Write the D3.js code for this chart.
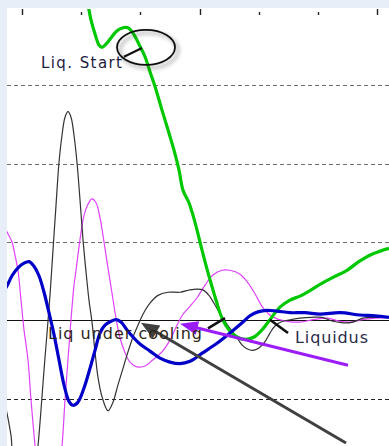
<!DOCTYPE html>
<html>
<head>
<meta charset="utf-8">
<script src="https://cdn.jsdelivr.net/npm/d3@7"></script>
<style>
  html, body { margin: 0; padding: 0; background: #e8eef8; }
  svg { display: block; }
</style>
</head>
<body>
<div id="chart"></div>
<script>
// Time (s) of each sample and the four traces (one unit per grid division)
const greenT = [11.15,11.66,12.34,13.01,13.52,14.2,15.04,16.06,17.07,17.91,18.76,19.77,20.79,21.63,22.65,23.66,24.67,25.69,26.53,27.21,28.22,29.24,30.08,30.93,31.77,32.79,33.8,34.99,36.34,37.86,39.21,40.56,41.91,43.6,45.29,46.98,48.67,50.36,52.56,54.93,57.12,59.32,62.02];
const greenV = [4.03,3.83,3.65,3.51,3.48,3.52,3.60,3.69,3.73,3.73,3.66,3.52,3.36,3.17,2.94,2.68,2.43,2.17,1.92,1.66,1.50,1.25,1.00,0.75,0.52,0.26,0.03,-0.12,-0.21,-0.24,-0.21,-0.12,0.01,0.17,0.26,0.31,0.38,0.46,0.55,0.64,0.76,0.85,0.92];

const blackT = [-3.21,-2.54,-1.86,-1.18,2.2,2.7,3.21,3.72,4.23,4.73,5.24,5.75,6.25,6.76,7.27,7.77,8.28,8.79,9.3,9.8,10.31,10.82,11.32,11.83,12.34,12.84,13.52,14.53,15.38,16.22,17.07,17.91,18.76,19.6,20.45,21.63,22.98,24.67,26.7,28.39,29.58,30.59,31.6,32.45,33.29,34.14,35.15,36.34,37.18,38.03,39.04,40.05,41.07,41.91,42.76,43.77,45.29,46.98,49.01,50.7,52.56,54.25,55.94,57.63,59.66,62.02];
const blackV = [-0.95,-1.18,-1.46,-1.78,-1.90,-1.60,-1.14,-0.63,-0.16,0.32,0.90,1.47,2.01,2.36,2.59,2.66,2.59,2.36,2.01,1.54,1.03,0.62,0.26,-0.02,-0.40,-0.72,-0.97,-1.15,-1.04,-0.82,-0.61,-0.40,-0.21,-0.06,0.08,0.22,0.32,0.36,0.36,0.39,0.40,0.39,0.32,0.22,0.11,0.01,-0.10,-0.22,-0.31,-0.36,-0.38,-0.35,-0.27,-0.16,-0.07,-0.02,0.01,0.03,0.04,0.04,-0.01,-0.03,-0.02,0.03,0.04,0.04];

const magentaT = [-3.21,-2.54,-1.69,-1.18,-0.68,-0.17,0.34,1.01,1.52,2.2,2.7,4.39,6.08,6.76,7.27,7.77,8.28,8.79,9.13,9.8,10.48,11.15,11.83,12.51,13.18,13.86,14.53,15.21,15.89,16.56,17.41,18.25,19.44,20.79,22.14,23.66,25.01,26.2,27.21,28.39,29.58,30.93,32.28,33.8,35.15,36.85,38.2,39.38,40.56,41.74,43.1,44.79,46.98,49.18,51.55,53.74,55.43,57.46,59.66,62.02];
const magentaV = [1.25,1.13,1.00,0.83,0.64,0.26,-0.12,-0.50,-1.01,-1.60,-2.03,-2.35,-2.03,-1.60,-1.01,-0.50,0.01,0.45,0.64,1.03,1.34,1.48,1.55,1.50,1.31,1.00,0.67,0.35,0.03,-0.22,-0.41,-0.53,-0.59,-0.58,-0.50,-0.40,-0.25,-0.06,0.08,0.18,0.29,0.45,0.58,0.64,0.64,0.59,0.48,0.34,0.18,0.08,0.02,-0.01,-0.02,0.01,0.03,-0.01,-0.02,0.01,0.03,0.04];

const blueT = [-3.21,-2.54,-1.69,-0.68,0.34,1.18,2.03,2.87,3.72,4.56,5.41,6.25,7.1,7.94,8.62,9.46,10.48,11.49,12.34,13.18,14.03,15.04,15.89,16.73,17.75,18.76,19.94,21.63,23.32,25.01,26.7,28.39,30.59,32.96,35.15,37.35,38.53,39.89,41.41,43.1,45.29,47.83,50.36,53.74,57.12,59.66,62.02];
const blueV = [0.36,0.44,0.57,0.67,0.73,0.75,0.69,0.57,0.36,0.10,-0.18,-0.50,-0.82,-1.03,-1.08,-1.04,-0.86,-0.61,-0.38,-0.16,-0.06,-0.01,0.01,-0.02,-0.12,-0.21,-0.30,-0.39,-0.48,-0.53,-0.55,-0.52,-0.41,-0.29,-0.16,-0.02,0.06,0.11,0.13,0.12,0.10,0.10,0.08,0.10,0.07,0.06,0.04];

// Axis ticks and grid levels
const majorTicks = [0, 30, 60];
const minorTicks = [10, 20, 40, 50];
const gridLevels = [1, 2, 3];
const lowerGrid = [-1];

// Annotation anchors in data units
const startMark = { t: 20.96, v: 3.48 };
const startTickLine = [[17.24, 3.36], [20.28, 3.47]];
const liquidusMarks = [
  [[31.43, -0.10], [34.31, 0.03]],
  [[41.91, 0.01], [44.96, -0.16]]
];
const purpleArrow = { from: [55.1, -0.57], to: [26.7, -0.04] };
const grayArrow = { from: [54.76, -1.56], to: [20.11, -0.03] };
const labels = [
  { text: "Liq. Start", t: 3.21, v: 3.22, size: 15, len: 81, color: "#1e2040" },
  { text: "Liq under cooling", t: 4.39, v: -0.24, size: 16, len: 154, color: "#2e2618" },
  { text: "Liquidus", t: 46.14, v: -0.29, size: 16, len: 73, color: "#2a2c4a" }
];

const W = 389, H = 446;
const plot = { left: 7, top: 9, right: 389, bottom: 446 };

const x = d3.scaleLinear().domain([0, 60]).range([22, 377]);
const y = d3.scaleLinear().domain([-1, 3]).range([399, 85]);

const svg = d3.select("#chart").append("svg")
  .attr("width", W).attr("height", H);

const defs = svg.append("defs");
defs.append("clipPath").attr("id", "plotClip")
  .append("rect")
  .attr("x", plot.left).attr("y", plot.top)
  .attr("width", plot.right - plot.left).attr("height", plot.bottom - plot.top);
const shadow = defs.append("filter").attr("id", "softShadow")
  .attr("x", "-30%").attr("y", "-30%").attr("width", "170%").attr("height", "170%");
shadow.append("feDropShadow")
  .attr("dx", 3).attr("dy", 3).attr("stdDeviation", 2.2)
  .attr("flood-color", "#000").attr("flood-opacity", 0.45);

// Plot background
svg.append("rect")
  .attr("x", plot.left).attr("y", plot.top - 1)
  .attr("width", plot.right - plot.left).attr("height", plot.bottom - plot.top + 1)
  .attr("fill", "#ffffff");

const g = svg.append("g").attr("clip-path", "url(#plotClip)");

// Dashed grid
g.selectAll(".grid").data(gridLevels).enter().append("line")
  .attr("x1", plot.left).attr("x2", plot.right)
  .attr("y1", d => Math.round(y(d)) + 0.5).attr("y2", d => Math.round(y(d)) + 0.5)
  .attr("stroke", "#6e6e6e").attr("stroke-width", 1)
  .attr("stroke-dasharray", "4,3");
g.selectAll(".gridLow").data(lowerGrid).enter().append("line")
  .attr("x1", plot.left).attr("x2", plot.right)
  .attr("y1", d => Math.round(y(d)) + 0.5).attr("y2", d => Math.round(y(d)) + 0.5)
  .attr("stroke", "#222").attr("stroke-width", 1)
  .attr("stroke-dasharray", "4,3");

// Zero line
g.append("line")
  .attr("x1", plot.left).attr("x2", plot.right)
  .attr("y1", Math.round(y(0)) - 0.5).attr("y2", Math.round(y(0)) - 0.5)
  .attr("stroke", "#111").attr("stroke-width", 1);

// Top ticks
const tickG = svg.append("g");
tickG.selectAll(".maj").data(majorTicks).enter().append("line")
  .attr("x1", d => Math.round(x(d)) + 0.5).attr("x2", d => Math.round(x(d)) + 0.5)
  .attr("y1", 9).attr("y2", 15)
  .attr("stroke", "#222").attr("stroke-width", 1.4);
tickG.selectAll(".min").data(minorTicks).enter().append("line")
  .attr("x1", d => Math.round(x(d)) + 0.5).attr("x2", d => Math.round(x(d)) + 0.5)
  .attr("y1", 12).attr("y2", 15)
  .attr("stroke", "#222").attr("stroke-width", 1.4);

const line = d3.line()
  .x(d => x(d[0])).y(d => y(d[1]))
  .curve(d3.curveCatmullRom.alpha(0.5));
const pair = (ts, vs) => ts.map((t, i) => [t, vs[i]]);

const series = [
  { data: pair(magentaT, magentaV), color: "#e040fb", width: 1.2 },
  { data: pair(blackT, blackV), color: "#333333", width: 1.2 },
  { data: pair(greenT, greenV), color: "#00c800", width: 3.2 },
  { data: pair(blueT, blueV), color: "#0000c8", width: 3.2 }
];
g.selectAll(".trace").data(series).enter().append("path")
  .attr("d", d => line(d.data))
  .attr("fill", "none")
  .attr("stroke", d => d.color)
  .attr("stroke-width", d => d.width)
  .attr("stroke-linejoin", "round");

// Liquidus start marker: shadowed ellipse with a short stroke
const ann = svg.append("g");
ann.append("ellipse")
  .attr("cx", x(startMark.t)).attr("cy", y(startMark.v))
  .attr("rx", 29).attr("ry", 17.5)
  .attr("fill", "none").attr("stroke", "#111").attr("stroke-width", 1.8)
  .attr("filter", "url(#softShadow)");
ann.append("line")
  .attr("x1", x(startTickLine[0][0])).attr("y1", y(startTickLine[0][1]))
  .attr("x2", x(startTickLine[1][0])).attr("y2", y(startTickLine[1][1]))
  .attr("stroke", "#111").attr("stroke-width", 2.2);

// Liquidus crossing marks
ann.selectAll(".lm").data(liquidusMarks).enter().append("line")
  .attr("x1", d => x(d[0][0])).attr("y1", d => y(d[0][1]))
  .attr("x2", d => x(d[1][0])).attr("y2", d => y(d[1][1]))
  .attr("stroke", "#111").attr("stroke-width", 2.6);

// Arrows
function arrow(a, color, width, headLen, headHalf) {
  const x0 = x(a.from[0]), y0 = y(a.from[1]);
  const x1 = x(a.to[0]), y1 = y(a.to[1]);
  const dx = x1 - x0, dy = y1 - y0, L = Math.hypot(dx, dy);
  const ux = dx / L, uy = dy / L;
  const bx = x1 - ux * headLen, by = y1 - uy * headLen;
  ann.append("line")
    .attr("x1", x0).attr("y1", y0).attr("x2", bx + ux * 2).attr("y2", by + uy * 2)
    .attr("stroke", color).attr("stroke-width", width);
  ann.append("path")
    .attr("d", `M${x1},${y1}L${bx - uy * headHalf},${by + ux * headHalf}L${bx + uy * headHalf},${by - ux * headHalf}Z`)
    .attr("fill", color);
}
arrow(grayArrow, "#404040", 3, 18, 7.5);
arrow(purpleArrow, "#9b1cf5", 3, 18, 7);

// Labels
ann.selectAll(".lbl").data(labels).enter().append("text")
  .attr("x", d => x(d.t)).attr("y", d => y(d.v))
  .attr("font-family", "DejaVu Sans, Verdana, sans-serif")
  .attr("font-size", d => d.size)
  .attr("textLength", d => d.len)
  .attr("lengthAdjust", "spacing")
  .attr("fill", d => d.color)
  .text(d => d.text);
</script>
</body>
</html>
